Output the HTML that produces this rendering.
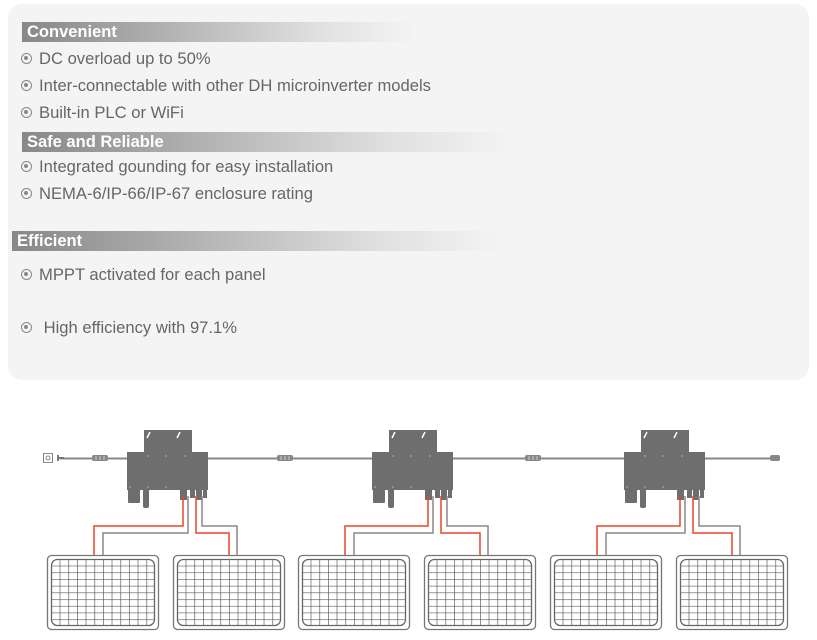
<!DOCTYPE html>
<html><head><meta charset="utf-8"><style>
body{margin:0;width:817px;height:640px;background:#fff;position:relative;overflow:hidden;font-family:"Liberation Sans",sans-serif}
.card{position:absolute;left:8px;top:4px;width:801px;height:376px;background:#f4f4f4;border-radius:14px}
.bar{position:absolute;height:20px;background:linear-gradient(to right,#888 0%,#aaa 30%,#e0e0e0 75%,rgba(240,240,240,0) 100%);color:#fff;font-weight:bold;font-size:16.5px;line-height:20px;padding-left:5px;box-sizing:border-box}
.it{position:absolute;left:21px;font-size:16.6px;color:#666;white-space:nowrap;line-height:20px}
.it b{display:inline-block;width:11px;height:11px;border:1.5px solid #888;border-radius:50%;position:relative;top:0px;margin-right:7px;box-sizing:border-box}
.it b:after{content:"";position:absolute;left:2px;top:2px;width:4px;height:4px;background:#888;border-radius:50%}
svg{position:absolute;left:0;top:0}
</style></head><body>
<div class="card"></div>
<div class="bar" style="left:22px;top:22px;width:395px">Convenient</div>
<div class="it" style="top:49px"><b></b>DC overload up to 50%</div>
<div class="it" style="top:76px"><b></b>Inter-connectable with other DH microinverter models</div>
<div class="it" style="top:103px"><b></b>Built-in PLC or WiFi</div>
<div class="bar" style="left:22px;top:132px;width:490px">Safe and Reliable</div>
<div class="it" style="top:157px"><b></b>Integrated gounding for easy installation</div>
<div class="it" style="top:184px"><b></b>NEMA-6/IP-66/IP-67 enclosure rating</div>
<div class="bar" style="left:12px;top:231px;width:490px">Efficient</div>
<div class="it" style="top:265px"><b></b>MPPT activated for each panel</div>
<div class="it" style="top:318px"><b></b> High efficiency with 97.1%</div>
<svg width="817" height="640" viewBox="0 0 817 640">
<defs>
<pattern id="g" x="51" y="559" width="8.67" height="6.7" patternUnits="userSpaceOnUse">
<path d="M0 0V6.7M0 0H8.67" stroke="#555" stroke-width="1.3" fill="none"/>
</pattern>
<g id="panel">
<rect x="47.5" y="555.5" width="111" height="74" rx="4" fill="#fff" stroke="#777" stroke-width="1.3"/>
<rect x="51.5" y="559.5" width="103" height="66" rx="6" fill="url(#g)" stroke="#666" stroke-width="1.3"/>
</g>
<g id="inv" fill="#6e6e6e">
<path d="M144 430h48v22h16v38h-81v-38h17z"/>
<rect x="128" y="488" width="12" height="15" rx="1"/>
<rect x="143" y="488" width="6" height="20" rx="2"/>
<rect x="180" y="488" width="7" height="12"/>
<rect x="190" y="488" width="5" height="10"/>
<rect x="196" y="488" width="6" height="12"/>
<rect x="203" y="488" width="4" height="10"/>
<g fill="#999"><circle cx="148" cy="456" r="1"/><circle cx="166" cy="456" r="1"/><circle cx="185" cy="456" r="1"/><circle cx="130" cy="487" r="1"/><circle cx="148" cy="487" r="1"/><circle cx="166" cy="487" r="1"/></g>
<path d="M150 432l-3 6M180 432l-3 6" stroke="#fff" stroke-width="1.5"/>
</g>
<g id="conn"><rect x="0" y="-3" width="16" height="6" rx="2" fill="#888"/><path d="M4-2v4M8-2v4M12-2v4" stroke="#ccc" stroke-width="1"/></g>
</defs>
<line x1="60" y1="458.5" x2="780" y2="458.5" stroke="#888" stroke-width="2"/>
<rect x="43.5" y="453.5" width="9" height="9" fill="#fff" stroke="#888"/><circle cx="48" cy="458" r="2" fill="none" stroke="#888"/>
<path d="M58 455v6M58 458h6" stroke="#777" stroke-width="2"/>
<use href="#conn" x="92" y="458"/><use href="#conn" x="277" y="458"/><use href="#conn" x="525" y="458"/>
<rect x="770" y="455" width="10" height="6" rx="2" fill="#888"/>
<use href="#inv"/><use href="#inv" x="245"/><use href="#inv" x="497"/>
<g fill="none" stroke-width="1.5">
<path d="M183 496V526H94V555" stroke="#e8472b"/><path d="M188 496V533H103V555" stroke="#888"/>
<path d="M196 496V533H229V555" stroke="#e8472b"/><path d="M202 496V526H237V555" stroke="#888"/>
<path d="M428 496V526H345V555" stroke="#e8472b"/><path d="M433 496V533H354V555" stroke="#888"/>
<path d="M441 496V533H480V555" stroke="#e8472b"/><path d="M447 496V526H488V555" stroke="#888"/>
<path d="M680 496V526H597V555" stroke="#e8472b"/><path d="M685 496V533H606V555" stroke="#888"/>
<path d="M693 496V533H732V555" stroke="#e8472b"/><path d="M699 496V526H740V555" stroke="#888"/>
</g>
<use href="#panel"/><use href="#panel" x="126"/><use href="#panel" x="251"/><use href="#panel" x="377"/><use href="#panel" x="503"/><use href="#panel" x="629"/>
</svg>
</body></html>
